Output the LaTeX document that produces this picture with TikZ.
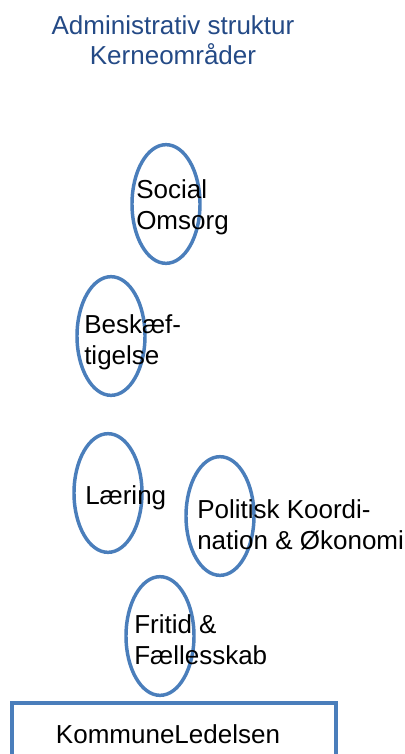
\documentclass[tikz,border=0pt]{standalone}
\usepackage{fontspec}
\setmainfont{Liberation Sans}
\usetikzlibrary{shapes.geometric}
\definecolor{ringblue}{RGB}{74,126,187}
\definecolor{titleblue}{RGB}{36,74,134}

\begin{document}
\begin{tikzpicture}[x=0.75pt,y=-0.75pt,
  area/.style={ellipse,draw=ringblue,line width=2.6pt,minimum width=51pt,minimum height=89pt,inner sep=0pt},
  label/.style={anchor=west,align=left,inner sep=0pt,font=\fontsize{19.5}{23.3}\selectfont},
  ]
\useasboundingbox (0,0) rectangle (404,754);
\clip (0,0) rectangle (404,754);
\node[align=center,text=titleblue,font=\fontsize{19.5}{22.5}\selectfont](title) at (173,40){Administrativ struktur\\Kerneområder};
% kerneomraader
\node[area](social) at (166,204){};
\node[label] (socialtxt) at (136,207){Social\\Omsorg};
\node[area](beskaef) at (111,336){};
\node[label] (beskaeftxt) at (84,342){Beskæf-\\tigelse};
\node[area](laering) at (108,493){};
\node[label] (laeringtxt) at (85,498){Læring};
\node[area](politisk) at (220,516){};
\node[label] (politisktxt) at (197,525){Politisk Koordi-\\nation \& Økonomi};
\node[area](fritid) at (160,636){};
\node[label] (fritidtxt) at (134,640){Fritid \&\\Fællesskab};
% ledelse
\node[draw=ringblue,line width=2.6pt,minimum width=243pt,minimum height=60pt,inner sep=0pt](ledelse) at (174,743){};
\node[inner sep=0pt,font=\fontsize{19.5}{23.3}\selectfont](ledelsetxt) at (168,734){KommuneLedelsen};
\end{tikzpicture}
\end{document}
